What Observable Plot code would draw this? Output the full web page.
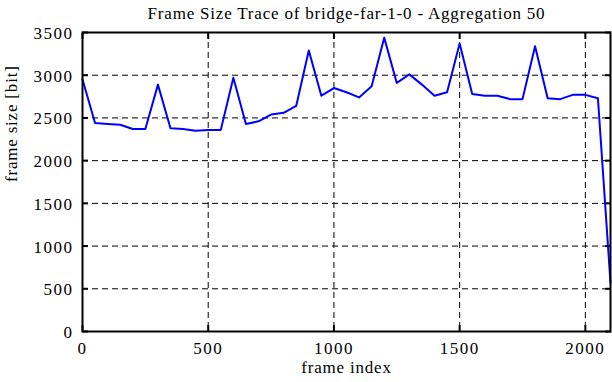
<!DOCTYPE html>
<html>
<head>
<meta charset="utf-8">
<script src="https://cdn.jsdelivr.net/npm/d3@7"></script>
<script src="https://cdn.jsdelivr.net/npm/@observablehq/plot@0.6"></script>
<style>
  html, body { margin: 0; padding: 0; background: #fff; }
</style>
</head>
<body>
<div id="chart"></div>
<script>
const frameIndex = [0,50,100,150,200,250,300,350,400,450,500,550,600,650,700,750,800,850,900,950,1000,1050,1100,1150,1200,1250,1300,1350,1400,1450,1500,1550,1600,1650,1700,1750,1800,1850,1900,1950,2000,2050,2100];
const frameSize = [2950,2440,2430,2420,2370,2370,2890,2380,2370,2350,2360,2360,2970,2430,2460,2540,2560,2640,3290,2760,2850,2800,2740,2870,3440,2910,3010,2890,2760,2800,3370,2780,2760,2760,2720,2720,3340,2730,2720,2770,2770,2730,570];
const xTicks = [0,500,1000,1500,2000];
const yTicks = [0,500,1000,1500,2000,2500,3000,3500];
const xGrid = [500,1000,1500,2000];
const yGrid = [500,1000,1500,2000,2500,3000];
const titleText = "Frame Size Trace of bridge-far-1-0 - Aggregation 50";
const xLabel = "frame index";
const yLabel = "frame size [bit]";

const data = frameIndex.map((x, i) => ({x, y: frameSize[i]}));
const font = "'Liberation Serif', 'Times New Roman', serif";

const chart = Plot.plot({
  width: 612,
  height: 382,
  marginLeft: 82,
  marginRight: 2,
  marginTop: 32,
  marginBottom: 51,
  style: {fontFamily: font, fontSize: "17px", background: "#fff", color: "black"},
  x: {domain: [0, 2100]},
  y: {domain: [0, 3500]},
  marks: [
    Plot.ruleY(yGrid, {y: d => d, stroke: "black", strokeWidth: 1, strokeDasharray: "6,4"}),
    Plot.ruleX(xGrid, {x: d => d, stroke: "black", strokeWidth: 1, strokeDasharray: "6,4"}),
    Plot.axisY(yTicks, {anchor: "left", tickSize: 6, dx: 6, tickFormat: () => "", label: null, strokeWidth: 2}),
    Plot.axisY(yTicks, {anchor: "right", tickSize: 6, dx: -6, tickFormat: () => "", label: null, strokeWidth: 2}),
    Plot.axisX(xTicks, {anchor: "bottom", tickSize: 6, dy: -6, tickFormat: () => "", label: null, strokeWidth: 2}),
    Plot.axisX(xTicks, {anchor: "top", tickSize: 6, dy: 6, tickFormat: () => "", label: null, strokeWidth: 2}),
    Plot.axisY(yTicks, {anchor: "left", tickSize: 0, tickPadding: 9, dy: 1, tickFormat: d3.format("d"), label: null, fontSize: 17}),
    Plot.axisX(xTicks, {anchor: "bottom", tickSize: 0, tickPadding: 10, tickFormat: d3.format("d"), label: null, fontSize: 17}),
    Plot.line(data, {x: "x", y: "y", stroke: "#0000ff", strokeWidth: 2}),
    Plot.frame({stroke: "black", strokeWidth: 2}),
    Plot.text([titleText], {frameAnchor: "top", dy: -25.5, fontSize: 17}),
    Plot.text([xLabel], {frameAnchor: "bottom", dy: 41.6, fontSize: 17}),
    Plot.text([yLabel], {frameAnchor: "left", rotate: -90, dx: -71, fontSize: 17})
  ]
});
d3.select(chart).selectAll("text").each(function () {
  const t = this.textContent;
  this.style.letterSpacing = /^\d+$/.test(t) ? "1.5px" : "0.8px";
});
document.getElementById("chart").appendChild(chart);
</script>
</body>
</html>
